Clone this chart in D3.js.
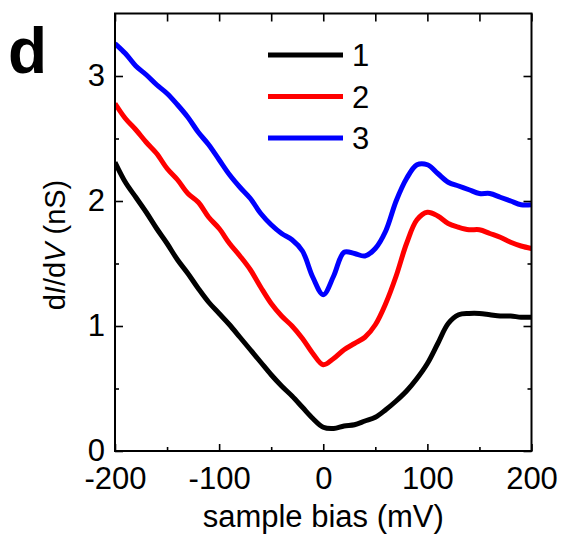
<!DOCTYPE html>
<html>
<head>
<meta charset="UTF-8">
<script src="https://d3js.org/d3.v7.min.js"></script>
<style>
  html, body { margin: 0; padding: 0; background: #fff; overflow: hidden; }
  text { font-family: "Liberation Sans", Arial, sans-serif; fill: #000; }
</style>
</head>
<body>
<div id="canvas"></div>
<script>
// sample bias (mV)
const bias = [-200, -190, -180, -170, -160, -150, -140, -130, -120, -110, -100,
  -90, -80, -70, -60, -50, -40, -30, -20, -10, 0, 10, 20, 30, 40, 50, 60, 70, 80,
  90, 100, 110, 120, 130, 140, 150, 160, 170, 180, 190, 200]

// dI/dV (nS)
const curve1 = [2.31, 2.15, 2.03, 1.91, 1.78, 1.66, 1.53, 1.42, 1.30, 1.19, 1.10,
  1.01, 0.91, 0.81, 0.71, 0.61, 0.52, 0.44, 0.35, 0.26, 0.19, 0.18, 0.20, 0.21, 0.24,
  0.27, 0.33, 0.40, 0.48, 0.58, 0.70, 0.86, 1.02, 1.09, 1.10, 1.10, 1.09, 1.08, 1.08,
  1.07, 1.07]
const curve2 = [2.78, 2.66, 2.57, 2.47, 2.38, 2.26, 2.17, 2.06, 1.99, 1.87, 1.78,
  1.66, 1.56, 1.45, 1.31, 1.18, 1.08, 1.00, 0.90, 0.78, 0.69, 0.74, 0.81, 0.86, 0.91,
  1.01, 1.18, 1.40, 1.66, 1.85, 1.91, 1.88, 1.82, 1.79, 1.77, 1.77, 1.74, 1.71, 1.67,
  1.64, 1.62]
const curve3 = [3.26, 3.18, 3.08, 3.01, 2.93, 2.86, 2.77, 2.67, 2.55, 2.45, 2.33,
  2.21, 2.11, 2.02, 1.90, 1.81, 1.74, 1.69, 1.60, 1.39, 1.25, 1.40, 1.59, 1.58, 1.56,
  1.62, 1.76, 2.00, 2.18, 2.29, 2.29, 2.22, 2.15, 2.12, 2.09, 2.06, 2.06, 2.03, 2.00,
  1.97, 1.97]

const seriesNames = ['1', '2', '3']
const seriesColors = ['#000000', '#ff0000', '#0000ff']
const xTicks = [-200, -100, 0, 100, 200]
const yTicks = [0, 1, 2, 3]

const W = 568, H = 539
const m = { left: 115, right: 36.5, top: 13.5, bottom: 88 }
const iw = W - m.left - m.right, ih = H - m.top - m.bottom

const svg = d3.select('#canvas').append('svg').attr('width', W).attr('height', H)
const g = svg.append('g').attr('transform', `translate(${m.left},${m.top})`)

const x = d3.scaleLinear().domain([-200, 200]).range([0, iw])
const y = d3.scaleLinear().domain([0, 3.5]).range([ih, 0])

g.append('clipPath').attr('id', 'clip').append('rect').attr('width', iw).attr('height', ih)

// curves
const line = d3.line().x(d => x(d[0])).y(d => y(d[1])).curve(d3.curveCatmullRom)
const curves = [curve1, curve2, curve3]
curves.forEach((c, i) => {
  g.append('path')
    .datum(bias.map((b, j) => [b, c[j]]))
    .attr('clip-path', 'url(#clip)')
    .attr('d', line)
    .style('fill', 'none')
    .style('stroke', seriesColors[i])
    .style('stroke-width', 5)
    .style('stroke-linejoin', 'round')
})

// axes, ticks inward
const tickStyle = sel => {
  sel.select('.domain').remove()
  sel.selectAll('line').style('stroke', '#000').style('stroke-width', 1.6)
}
const xMinor = d3.range(-150, 200, 100)
const yMinor = [0.5, 1.5, 2.5]
const plain = d => String(d)

const bottom = g.append('g').attr('transform', `translate(0,${ih})`)
  .call(d3.axisBottom(x).tickValues(xTicks).tickSize(-7).tickFormat(plain))
bottom.call(tickStyle)
bottom.selectAll('text').style('font-size', '31px').attr('dy', '0.71em').attr('y', 16)
g.append('g').attr('transform', `translate(0,${ih})`)
  .call(d3.axisBottom(x).tickValues(xMinor).tickSize(-4).tickFormat(''))
  .call(tickStyle)

g.append('g').call(d3.axisTop(x).tickValues(xTicks.concat(xMinor)).tickSize(-8).tickFormat(''))
  .call(tickStyle)

const left = g.append('g')
  .call(d3.axisLeft(y).tickValues(yTicks).tickSize(-8).tickFormat(plain))
left.call(tickStyle)
left.selectAll('text').style('font-size', '31px').attr('x', -10)
g.append('g').call(d3.axisLeft(y).tickValues(yMinor).tickSize(-4).tickFormat('')).call(tickStyle)

g.append('g').attr('transform', `translate(${iw},0)`)
  .call(d3.axisRight(y).tickValues(yTicks).tickSize(-8).tickFormat('')).call(tickStyle)
g.append('g').attr('transform', `translate(${iw},0)`)
  .call(d3.axisRight(y).tickValues(yMinor).tickSize(-4).tickFormat('')).call(tickStyle)

// frame
g.append('rect').attr('width', iw).attr('height', ih)
  .style('fill', 'none').style('stroke', '#000').style('stroke-width', 2)

// axis labels
svg.append('text').attr('x', m.left + x(0)).attr('y', 527)
  .style('text-anchor', 'middle').style('font-size', '31px')
  .text('sample bias (mV)')

const yl = svg.append('text').attr('transform', 'translate(65,245) rotate(-90)')
  .style('text-anchor', 'middle').style('font-size', '29px')
yl.append('tspan').text('d')
yl.append('tspan').text('I').style('font-style', 'italic')
yl.append('tspan').text('/d')
yl.append('tspan').text('V').style('font-style', 'italic')
yl.append('tspan').text(' (nS)')

// panel letter
svg.append('text').attr('x', 8).attr('y', 73)
  .style('font-size', '64px').style('font-weight', 'bold').text('d')

// legend
const legend = svg.append('g')
seriesNames.forEach((n, i) => {
  const ly = 55 + i * 41.5
  legend.append('line').attr('x1', 268).attr('x2', 343).attr('y1', ly).attr('y2', ly)
    .style('stroke', seriesColors[i]).style('stroke-width', 5)
  legend.append('text').attr('x', 352).attr('y', ly + 11)
    .style('font-size', '31px').text(n)
})
</script>
</body>
</html>
